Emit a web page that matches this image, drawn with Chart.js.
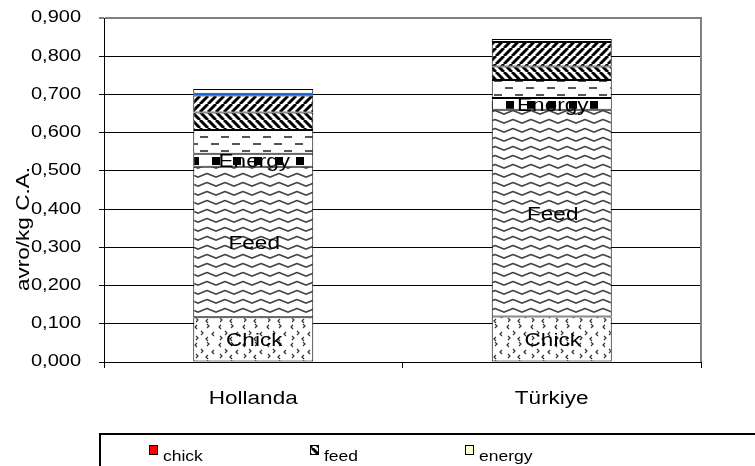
<!DOCTYPE html>
<html>
<head>
<meta charset="utf-8">
<script src="https://cdn.jsdelivr.net/npm/chart.js@4.4.1/dist/chart.umd.min.js"></script>
<style>
  html, body { margin: 0; padding: 0; background: #fff; }
  canvas { display: block; }
</style>
</head>
<body>
<canvas id="costChart" width="755" height="466"></canvas>
<script>
// Broiler production cost per kg live weight, stacked by cost item

const categories = ['Hollanda', 'Türkiye'];
const seriesNames = ['chick', 'feed', 'energy', 'labour', 'housing', 'depreciation', 'interest', 'other'];
const segmentLabels = ['Chick', 'Feed', 'Energy'];

const chickCost = [0.117, 0.119];
const feedCost = [0.394, 0.541];
const energyCost = [0.034, 0.031];
const labourCost = [0.062, 0.047];
const housingCost = [0.046, 0.035];
const deprCost = [0.044, 0.064];
const interestCost = [0.005, 0];
const otherCost = [0.012, 0.008];

const seriesValues = [chickCost, feedCost, energyCost, labourCost, housingCost, deprCost, interestCost, otherCost];

const FONT = '"Liberation Sans", Arial, sans-serif';
const TEXT_STRETCH = 1.25;

// wide lettering: every string is drawn stretched sideways
function stretchText(ctx, sx) {
    const fill = ctx.fillText.bind(ctx);
    const measure = ctx.measureText.bind(ctx);
    ctx.fillText = (t, x, y) => {
        ctx.save();
        ctx.translate(x, y);
        ctx.scale(sx, 1);
        fill(t, 0, 0);
        ctx.restore();
    };
    ctx.measureText = t => {
        const m = measure(t);
        return {
            width: m.width * sx,
            actualBoundingBoxAscent: m.actualBoundingBoxAscent,
            actualBoundingBoxDescent: m.actualBoundingBoxDescent
        };
    };
}

// Excel-like fill patterns
function makePattern(w, h, draw) {
    const c = document.createElement('canvas');
    c.width = w;
    c.height = h;
    const g = c.getContext('2d');
    g.fillStyle = '#fff';
    g.fillRect(0, 0, w, h);
    draw(g, w, h);
    return g.createPattern(c, 'repeat');
}

const chickFill = makePattern(24, 18, g => {
    g.strokeStyle = '#333';
    g.lineWidth = 1.2;
    const marks = [[3, 3, 0], [15, 2, 1], [9, 9, 1], [20, 10, 0], [4, 14, 1], [14, 15, 0]];
    marks.forEach(([x, y, right]) => {
        g.beginPath();
        if (right) {
            g.moveTo(x, y - 2); g.lineTo(x + 2, y); g.lineTo(x, y + 2);
        } else {
            g.moveTo(x + 2, y - 2); g.lineTo(x, y); g.lineTo(x + 2, y + 2);
        }
        g.stroke();
    });
});

const feedFill = makePattern(18, 9, g => {
    g.strokeStyle = '#444';
    g.lineWidth = 1.6;
    g.lineJoin = 'round';
    g.beginPath();
    g.moveTo(-1, 6.5);
    g.lineTo(9, 2.5);
    g.lineTo(19, 6.5);
    g.stroke();
});

const energyFill = makePattern(21, 14, g => {
    g.fillStyle = '#000';
    g.fillRect(2, 3, 8, 8);
});

const labourFill = makePattern(21, 14, g => {
    g.fillStyle = '#555';
    g.fillRect(1, 3, 8, 2);
    g.fillRect(11, 10, 8, 2);
});

const housingFill = makePattern(8, 8, g => {
    g.strokeStyle = '#000';
    g.lineWidth = 3;
    g.beginPath();
    [-8, 0, 8].forEach(k => { g.moveTo(k, 0); g.lineTo(k + 8, 8); });
    g.stroke();
});

const deprFill = makePattern(8, 8, g => {
    g.strokeStyle = '#000';
    g.lineWidth = 3;
    g.beginPath();
    [-8, 0, 8].forEach(k => { g.moveTo(k, 8); g.lineTo(k + 8, 0); });
    g.stroke();
});

const otherFill = makePattern(20, 7, g => {
    g.fillStyle = '#666';
    g.fillRect(3, 2, 3, 1);
});

const barFills = [chickFill, feedFill, energyFill, labourFill, housingFill, deprFill, '#1560d0', otherFill];
const legendFills = ['#ff0000', housingFill, '#ffffcc', '#ccffff', '#660066', '#ff8080', '#0066cc', '#ccccff'];

// plot frame on the right side
const plotFrame = {
    id: 'plotFrame',
    beforeDatasetsDraw(chart) {
        const { ctx, chartArea } = chart;
        ctx.save();
        ctx.strokeStyle = '#808080';
        ctx.lineWidth = 2;
        ctx.beginPath();
        ctx.moveTo(chartArea.right, chartArea.top - 1);
        ctx.lineTo(chartArea.right, chartArea.bottom);
        ctx.stroke();
        ctx.restore();
    }
};

// names written inside the lower segments
const segmentText = {
    id: 'segmentText',
    afterDatasetsDraw(chart) {
        const ctx = chart.ctx;
        ctx.save();
        ctx.font = '18px ' + FONT;
        ctx.fillStyle = '#000';
        ctx.textAlign = 'center';
        ctx.textBaseline = 'middle';
        segmentLabels.forEach((txt, i) => {
            chart.getDatasetMeta(i).data.forEach(bar => {
                ctx.fillText(txt, bar.x + 1, (bar.y + bar.base) / 2 + 2);
            });
        });
        ctx.restore();
    }
};

// vertical axis title, drawn over the tick column
const axisTitle = {
    id: 'axisTitle',
    afterDraw(chart) {
        const ctx = chart.ctx;
        ctx.save();
        ctx.translate(24, 229);
        ctx.rotate(-Math.PI / 2);
        ctx.font = '18px ' + FONT;
        ctx.fillStyle = '#000';
        ctx.textAlign = 'center';
        ctx.textBaseline = 'middle';
        ctx.fillText('avro/kg C.A.', 0, 0);
        ctx.restore();
    }
};

// boxed legend laid out in three columns
const boxLegend = {
    id: 'boxLegend',
    afterDraw(chart) {
        const ctx = chart.ctx;
        ctx.save();
        ctx.strokeStyle = '#000';
        ctx.lineWidth = 2;
        ctx.strokeRect(100, 434, 700, 80);
        ctx.font = '14px ' + FONT;
        ctx.textBaseline = 'alphabetic';
        const colX = [149, 310, 465];
        chart.data.datasets.forEach((ds, i) => {
            const x = colX[i % 3];
            const y = 445 + Math.floor(i / 3) * 22;
            ctx.fillStyle = legendFills[i];
            ctx.fillRect(x, y, 8, 9);
            ctx.lineWidth = 1;
            ctx.strokeRect(x + 0.5, y + 0.5, 8, 9);
            ctx.fillStyle = '#000';
            ctx.fillText(ds.label, x + 14, y + 16);
        });
        ctx.restore();
    }
};

const canvas = document.getElementById('costChart');
stretchText(canvas.getContext('2d'), TEXT_STRETCH);

new Chart(canvas, {
    type: 'bar',
    data: {
        labels: categories,
        datasets: seriesNames.map((name, i) => ({
            label: name,
            data: seriesValues[i],
            backgroundColor: barFills[i],
            borderColor: i === 6 ? '#1560d0' : '#000',
            borderWidth: i === 6 ? 0 : 1,
            borderSkipped: false,
            barPercentage: 0.402,
            categoryPercentage: 1
        }))
    },
    options: {
        responsive: false,
        animation: false,
        layout: { padding: { left: 0, right: 54, top: 18, bottom: 0 } },
        plugins: {
            legend: { display: false },
            tooltip: { enabled: false }
        },
        scales: {
            x: {
                stacked: true,
                offset: true,
                afterFit: s => { s.height = 104; },
                grid: {
                    offset: true,
                    drawOnChartArea: false,
                    tickLength: 6,
                    color: '#000'
                },
                border: { color: '#000', width: 1 },
                ticks: {
                    color: '#000',
                    padding: 20,
                    font: { family: FONT, size: 18 }
                }
            },
            y: {
                stacked: true,
                min: 0,
                max: 0.9,
                afterFit: s => {
                    s.width = 104;
                    s.paddingTop = 0;
                    s.paddingBottom = 0;
                },
                grid: {
                    color: ctx => ctx.tick && ctx.tick.value >= 0.9 ? '#808080' : '#000',
                    lineWidth: ctx => ctx.tick && ctx.tick.value >= 0.9 ? 2 : 1,
                    tickLength: 5
                },
                border: { color: '#000', width: 1 },
                ticks: {
                    stepSize: 0.1,
                    color: '#000',
                    padding: 18,
                    font: { family: FONT, size: 16 },
                    callback: v => v.toFixed(3).replace('.', ',')
                }
            }
        }
    },
    plugins: [plotFrame, segmentText, axisTitle, boxLegend]
});
</script>
</body>
</html>
